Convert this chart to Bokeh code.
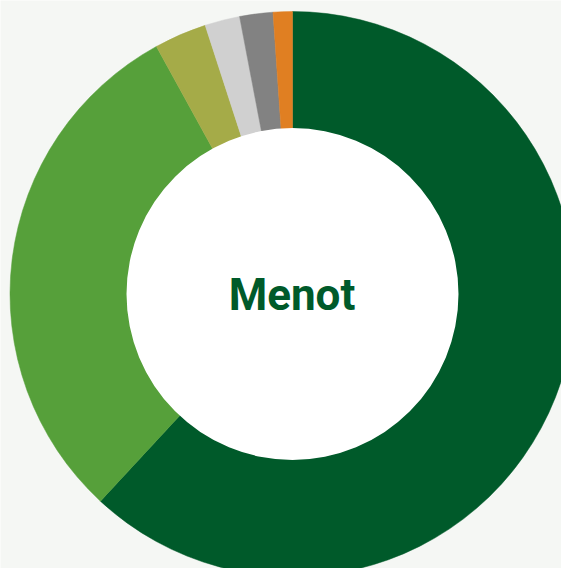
import math
import numpy as np
from bokeh.plotting import figure
from bokeh.models import ColumnDataSource
from bokeh.core.properties import value
from bokeh.embed import file_html
from bokeh.resources import INLINE

# Data (percent shares, clockwise from top)
categories = ["A", "B", "C", "D", "E", "F"]
shares = [61.9, 30.1, 3.0, 2.0, 1.9, 1.1]
colors = ["#005a2a", "#56a03a", "#a5ab48", "#d0d0d0", "#828282", "#e07f22"]
center_label = "Menot"

W, H = 561, 568
cx, cy = 292, H - 293.5
R_OUT, R_IN = 282.5, 166

frac = np.array(shares) / sum(shares)
cum = np.concatenate([[0], np.cumsum(frac)])
start = [math.pi / 2 - 2 * math.pi * c for c in cum[:-1]]
end = [math.pi / 2 - 2 * math.pi * c for c in cum[1:]]

src = ColumnDataSource(dict(cat=categories, start=start, end=end, color=colors,
                            x=[cx] * len(categories), y=[cy] * len(categories)))

p = figure(width=W, height=H, x_range=(0, W), y_range=(0, H),
           output_backend="svg", toolbar_location=None, min_border=0)
p.axis.visible = False
p.grid.visible = False
p.outline_line_color = None
p.background_fill_color = "#f5f7f4"
p.border_fill_color = "#f5f7f4"

p.annular_wedge(x="x", y="y", inner_radius=0, outer_radius=R_OUT,
                start_angle="end", end_angle="start", color="color",
                line_color="color", line_width=0.5, source=src)
p.circle(x=[cx], y=[cy], radius=R_IN, fill_color="white", line_color=None)

p.text(x=[291.5], y=[H - 294], text=[center_label], text_align="center",
       text_baseline="alphabetic", text_color="#005a2a", text_font_size="44px",
       text_font=value("Roboto"), text_font_style="bold")

html = file_html(p, INLINE)
html = html.replace("<body>", '<body style="background:#f5f7f4">', 1)
open("out.html", "w").write(html)
